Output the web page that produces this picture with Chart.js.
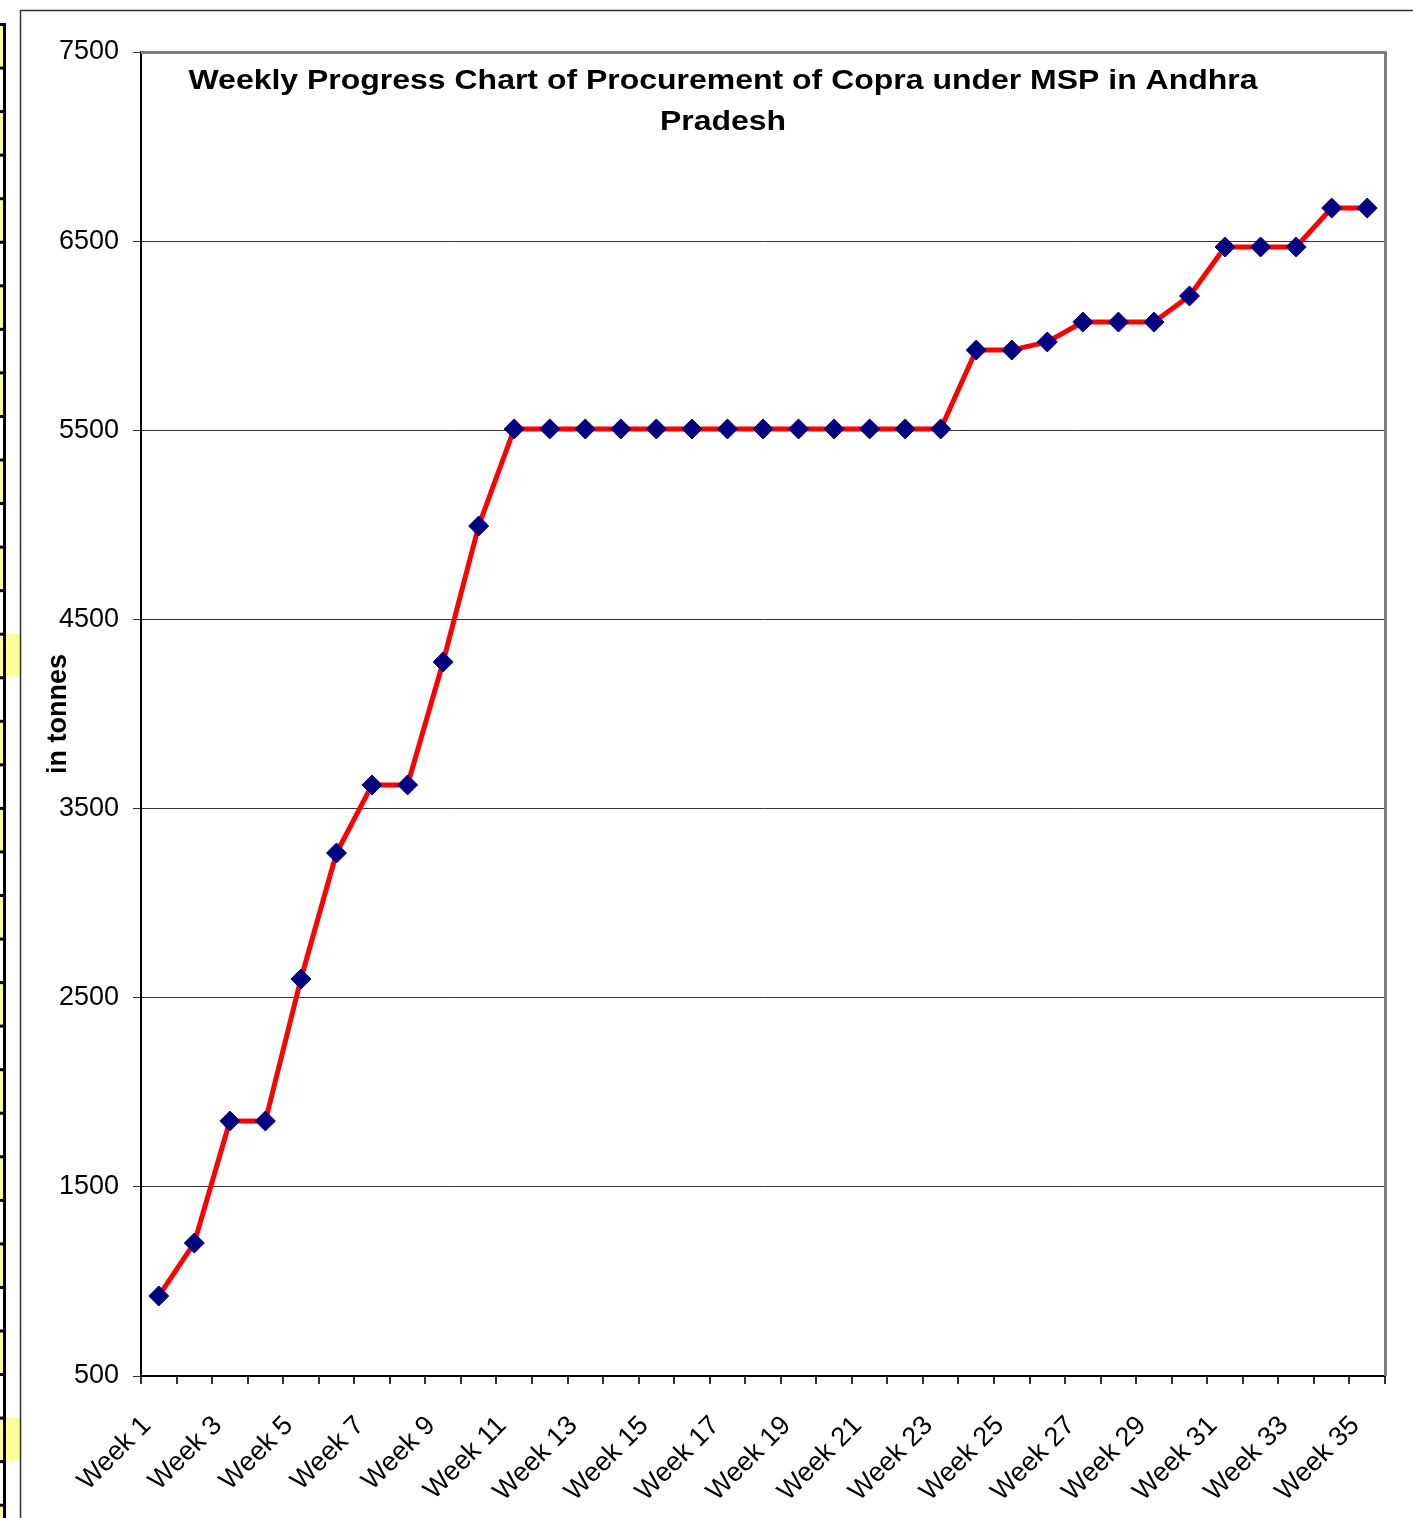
<!DOCTYPE html>
<html>
<head>
<meta charset="utf-8">
<title>Weekly Progress Chart of Procurement of Copra under MSP in Andhra Pradesh</title>
<script src="https://cdn.jsdelivr.net/npm/chart.js@4.4.1/dist/chart.umd.min.js"></script>
<style>
  html, body { margin: 0; padding: 0; background: #fff; }
  #wrap { width: 1413px; height: 1518px; }
</style>
</head>
<body>
<div id="wrap"><canvas id="copraChart" width="1413" height="1518"></canvas></div>
<script>
const weeks = ['Week 1', 'Week 2', 'Week 3', 'Week 4', 'Week 5', 'Week 6', 'Week 7',
  'Week 8', 'Week 9', 'Week 10', 'Week 11', 'Week 12', 'Week 13', 'Week 14',
  'Week 15', 'Week 16', 'Week 17', 'Week 18', 'Week 19', 'Week 20', 'Week 21',
  'Week 22', 'Week 23', 'Week 24', 'Week 25', 'Week 26', 'Week 27', 'Week 28',
  'Week 29', 'Week 30', 'Week 31', 'Week 32', 'Week 33', 'Week 34', 'Week 35'];
// cumulative procurement in tonnes
const procured = [923, 1203, 1848, 1848, 2599, 3265, 3625, 3625, 4275, 4994,
  5507, 5507, 5507, 5507, 5507, 5507, 5507, 5507, 5507, 5507, 5507, 5507, 5507,
  5924, 5924, 5967, 6072, 6072, 6072, 6210, 6469, 6469, 6469, 6675, 6675];
const titleLines = ['Weekly Progress Chart of Procurement of Copra under MSP in Andhra', 'Pradesh'];
const yTitle = 'in tonnes';
const yMin = 500, yMax = 7500, yStep = 1000;

const FONT = "'Liberation Sans', Arial, sans-serif";

// spreadsheet bits on the left + outer chart frame + plot frame (top/right grey)
const framePlugin = {
  id: 'frame',
  beforeDraw(chart) {
    const c = chart.ctx;
    c.save();
    c.fillStyle = '#fff';
    c.fillRect(0, 0, chart.width, chart.height);
    // left strip of the worksheet
    const cell = 43.55, start = 24;
    for (let k = 0; k * cell + start < chart.height; k++) {
      const y = start + k * cell;
      if (k % 2 === 0) {
        c.fillStyle = '#ffff99';
        c.fillRect(0, y, 3, cell);
        if (k === 14 || k === 32) c.fillRect(6, y, 14, cell);
      }
      c.fillStyle = '#000';
      c.fillRect(0, y - 1, 6, 3);
    }
    c.fillStyle = '#000';
    c.fillRect(3, start - 1, 3, chart.height);
    // outer frame
    c.strokeStyle = '#333';
    c.lineWidth = 1.5;
    c.beginPath();
    c.moveTo(20.5, chart.height);
    c.lineTo(20.5, 10.5);
    c.lineTo(chart.width, 10.5);
    c.stroke();
    c.restore();
  },
  beforeDatasetsDraw(chart) {
    const a = chart.chartArea, c = chart.ctx;
    c.save();
    c.strokeStyle = '#808080';
    c.lineWidth = 3;
    c.beginPath();
    c.moveTo(a.left, a.top + 0.5);
    c.lineTo(a.right + 0.5, a.top + 0.5);
    c.lineTo(a.right + 0.5, a.bottom);
    c.stroke();
    c.restore();
  },
  afterDraw(chart) {
    const c = chart.ctx;
    c.save();
    c.font = 'bold 28px ' + FONT;
    c.fillStyle = '#000';
    c.textAlign = 'center';
    c.textBaseline = 'middle';
    const sx = 1069 / c.measureText(titleLines[0]).width;
    const cx = 723;
    [81, 122].forEach((y, i) => {
      c.save();
      c.translate(cx, y);
      c.scale(sx, 1);
      c.fillText(titleLines[i], 0, 0);
      c.restore();
    });
    c.restore();
  }
};

const ctx = document.getElementById('copraChart').getContext('2d');
new Chart(ctx, {
  type: 'line',
  data: {
    labels: weeks,
    datasets: [{
      label: 'Procurement',
      data: procured,
      borderColor: '#ff0000',
      borderWidth: 5,
      tension: 0,
      pointStyle: 'rectRot',
      pointRadius: 10,
      pointBackgroundColor: '#000080',
      pointBorderColor: '#000080',
      pointBorderWidth: 1
    }]
  },
  options: {
    responsive: false,
    animation: false,
    layout: { padding: { left: 20, top: 52, right: 28, bottom: 0 } },
    plugins: { legend: { display: false }, tooltip: { enabled: false }, title: { display: false } },
    scales: {
      x: {
        type: 'category',
        offset: true,
        afterFit(scale) {
          scale.height = 142;
          scale.paddingLeft = 0;
          scale.paddingRight = 0;
        },
        grid: { offset: true, drawOnChartArea: false, drawTicks: true, tickLength: 8, color: '#333', lineWidth: 2 },
        border: { color: '#000', width: 2 },
        ticks: {
          autoSkip: false,
          maxRotation: 45,
          minRotation: 45,
          padding: 26,
          labelOffset: -12,
          color: '#000',
          font: { family: FONT, size: 27 },
          callback: (v, i) => (i % 2 === 0 ? weeks[i] : '')
        }
      },
      y: {
        min: yMin,
        max: yMax,
        afterFit(scale) { scale.width = 121; },
        grid: { color: '#333', lineWidth: 1, tickLength: 8 },
        border: { color: '#000', width: 2 },
        ticks: {
          stepSize: yStep,
          padding: 14,
          color: '#000',
          font: { family: FONT, size: 27 },
          callback: (v) => String(v)
        },
        title: {
          display: true,
          text: yTitle,
          color: '#000',
          padding: { top: 22, bottom: 0 },
          font: { family: FONT, size: 27, weight: 'bold' }
        }
      }
    }
  },
  plugins: [framePlugin]
});
</script>
</body>
</html>
